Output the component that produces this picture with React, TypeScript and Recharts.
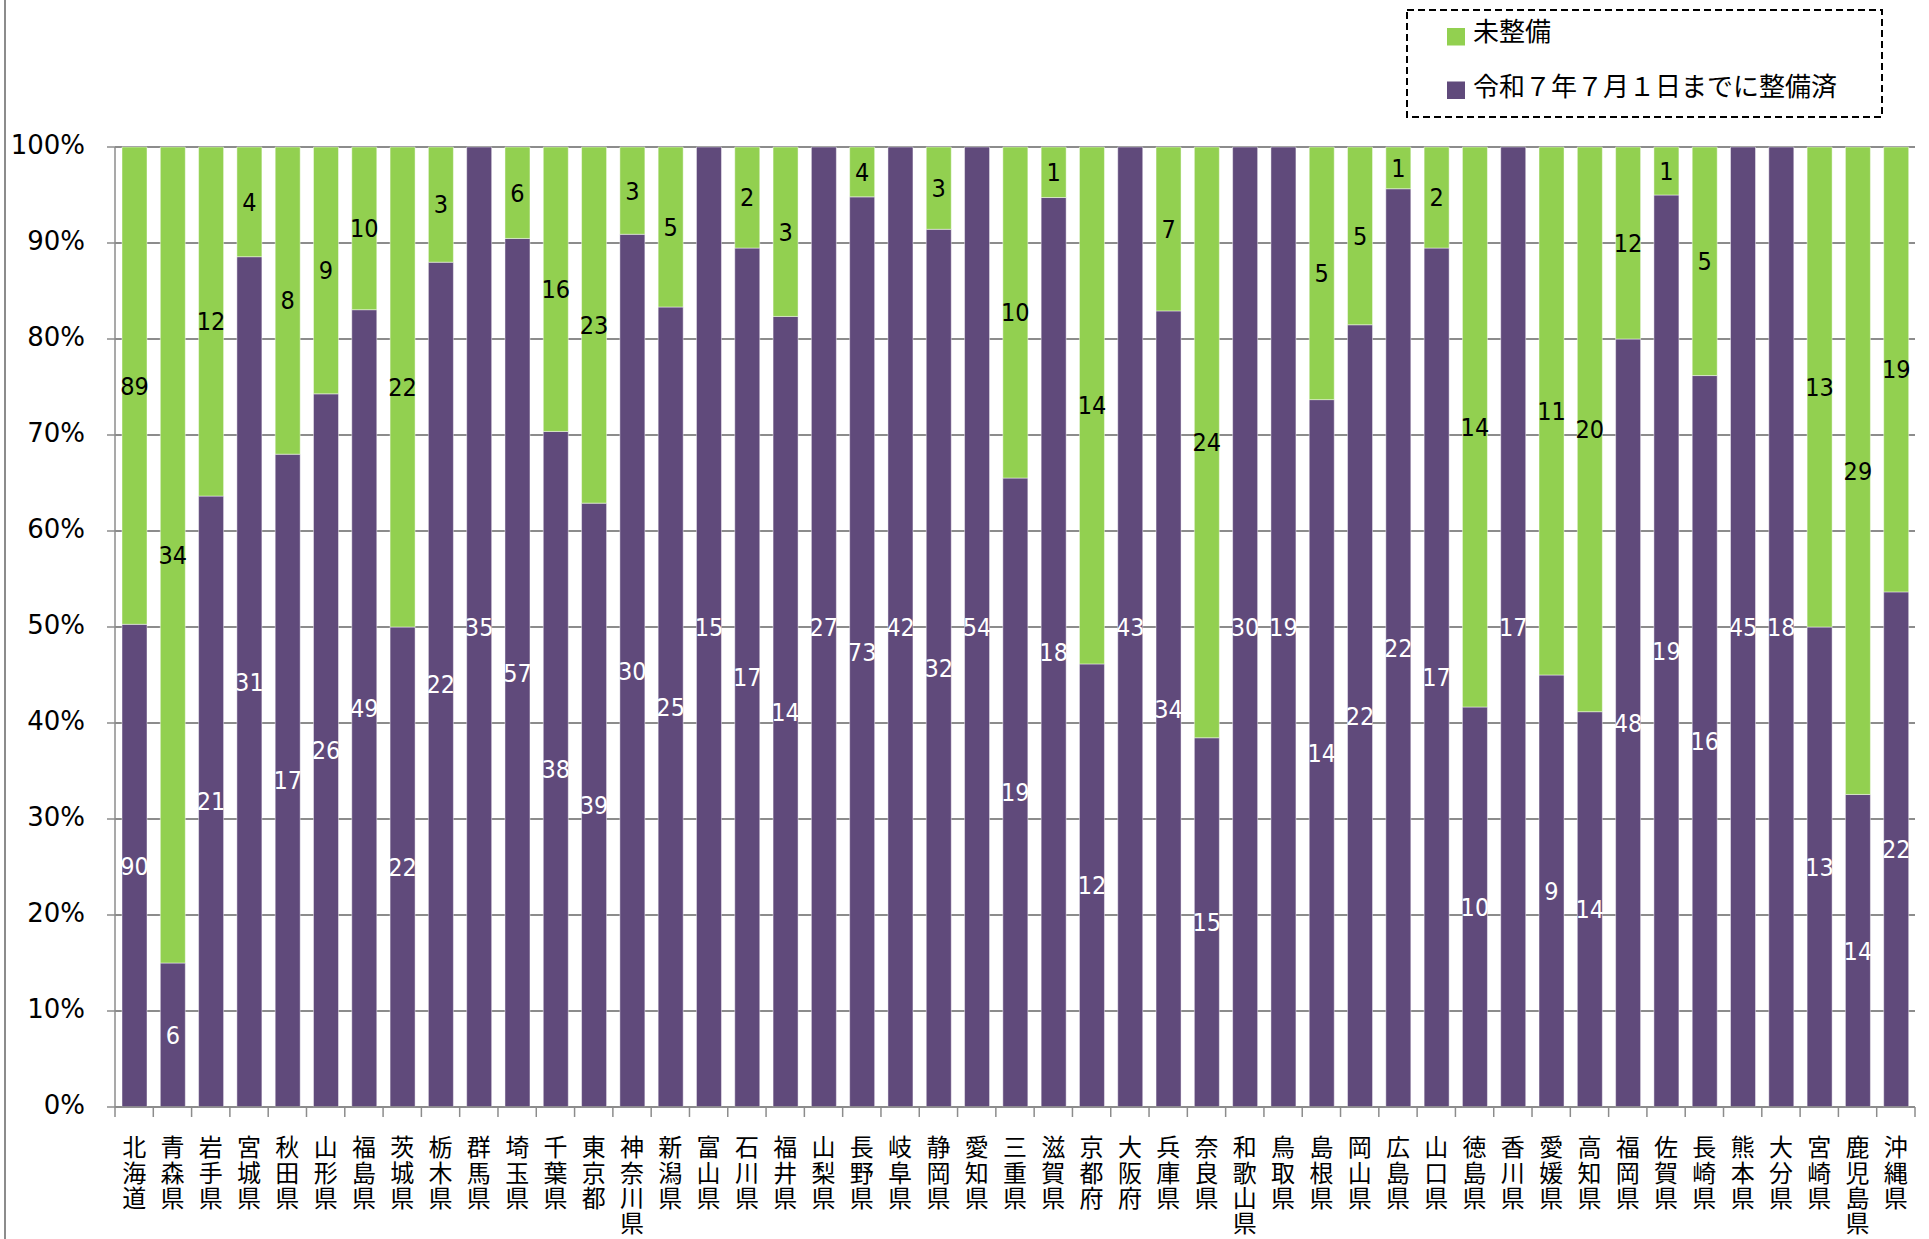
import { BarChart, Bar, XAxis, YAxis, CartesianGrid, LabelList, Legend } from 'recharts'

// 都道府県（表示順）
const prefectures = [
  '北海道', '青森県', '岩手県', '宮城県', '秋田県', '山形県', '福島県', '茨城県', '栃木県', '群馬県',
  '埼玉県', '千葉県', '東京都', '神奈川県', '新潟県', '富山県', '石川県', '福井県', '山梨県', '長野県',
  '岐阜県', '静岡県', '愛知県', '三重県', '滋賀県', '京都府', '大阪府', '兵庫県', '奈良県', '和歌山県',
  '鳥取県', '島根県', '岡山県', '広島県', '山口県', '徳島県', '香川県', '愛媛県', '高知県', '福岡県',
  '佐賀県', '長崎県', '熊本県', '大分県', '宮崎県', '鹿児島県', '沖縄県',
]

// 令和７年７月１日までに整備済
const built = [
  90, 6, 21, 31, 17, 26, 49, 22, 22, 35,
  57, 38, 39, 30, 25, 15, 17, 14, 27, 73,
  42, 32, 54, 19, 18, 12, 43, 34, 15, 30,
  19, 14, 22, 22, 17, 10, 17, 9, 14, 48,
  19, 16, 45, 18, 13, 14, 22,
]

// 未整備
const notBuilt = [
  89, 34, 12, 4, 8, 9, 10, 22, 3, 0,
  6, 16, 23, 3, 5, 0, 2, 3, 0, 4,
  0, 3, 0, 10, 1, 14, 0, 7, 24, 0,
  0, 5, 5, 1, 2, 14, 0, 11, 20, 12,
  1, 5, 0, 0, 13, 29, 19,
]

const yTicks = [0, 0.1, 0.2, 0.3, 0.4, 0.5, 0.6, 0.7, 0.8, 0.9, 1]

const PURPLE = '#604a7b'
const GREEN = '#92d050'
const GRID = '#8c8c8c'

const data = prefectures.map((name, i) => ({
  name,
  built: built[i],
  notBuilt: notBuilt[i],
}))

const hideZero = (v: any) => (v ? v : '')

// 縦書きの都道府県ラベルと区切りの目盛り線
function PrefTick(props: any) {
  const { x, y, payload, index } = props
  const half = payload?.offset ?? 19.15
  return (
    <g>
      <line x1={x - half} x2={x - half} y1={y - 10} y2={y} stroke={GRID} strokeWidth={1.5} />
      {index === prefectures.length - 1 && (
        <line x1={x + half} x2={x + half} y1={y - 10} y2={y} stroke={GRID} strokeWidth={1.5} />
      )}
      <text
        x={x}
        y={y + 18}
        fontFamily="'Noto Sans CJK JP'"
        fontSize={24}
        fill="#000"
        style={{ writingMode: 'vertical-rl', letterSpacing: 1.4 }}
      >
        {payload.value}
      </text>
    </g>
  )
}

function LegendBox() {
  const items = [
    { label: '未整備', color: GREEN },
    { label: '令和７年７月１日までに整備済', color: PURPLE },
  ]
  return (
    <svg width={477} height={109} style={{ display: 'block' }}>
      <rect x={1} y={1} width={475} height={107} fill="#fff" stroke="#000" strokeWidth={2} strokeDasharray="7 4" />
      {items.map((it, i) => (
        <g key={it.label}>
          <rect x={41} y={19 + i * 53.5} width={18} height={17.5} fill={it.color} />
          <text x={67} y={32 + i * 54.5} fontFamily="'Noto Sans CJK JP'" fontSize={26} fill="#000">
            {it.label}
          </text>
        </g>
      ))}
    </svg>
  )
}

export default function App() {
  return (
    <div style={{ position: 'relative', width: 1929, height: 1239, background: '#fff' }}>
      <style>{'body{margin:0}'}</style>
      <div style={{ position: 'absolute', left: 3.5, top: 0, width: 2, height: 1239, background: GRID }} />
      <BarChart
        width={1929}
        height={1239}
        data={data}
        stackOffset="expand"
        margin={{ top: 147, right: 14, left: 0, bottom: 0 }}
      >
        <CartesianGrid vertical={false} stroke={GRID} strokeWidth={2} />
        <XAxis
          dataKey="name"
          interval={0}
          height={132}
          tickLine={false}
          tickSize={10}
          tickMargin={0}
          axisLine={{ stroke: GRID, strokeWidth: 1.5 }}
          tick={<PrefTick />}
        />
        <YAxis
          width={115}
          domain={[0, 1]}
          ticks={yTicks}
          interval={0}
          tickSize={8}
          tickMargin={22}
          tickFormatter={(v: number) => `${Math.round(v * 100)}%`}
          axisLine={{ stroke: GRID, strokeWidth: 1.5 }}
          tickLine={{ stroke: GRID, strokeWidth: 1.5 }}
          tick={{ fontSize: 26, fill: '#000', fontFamily: "'DejaVu Sans'", dy: -2 }}
        />
        <Legend
          layout="vertical"
          align="center"
          verticalAlign="middle"
          wrapperStyle={{ left: 1406, top: 9, width: 477, height: 109 }}
          content={() => <LegendBox />}
        />
        <Bar dataKey="built" stackId="a" fill={PURPLE} barSize={25} stroke="#ffffff" strokeOpacity={0.45} strokeWidth={1} isAnimationActive={false}>
          <LabelList
            dataKey="built"
            position="center"
            formatter={hideZero}
            fill="#fff"
            fontSize={25}
            fontFamily="'DejaVu Sans Condensed', 'DejaVu Sans'"
          />
        </Bar>
        <Bar dataKey="notBuilt" stackId="a" fill={GREEN} barSize={25} stroke="#ffffff" strokeOpacity={0.45} strokeWidth={1} isAnimationActive={false}>
          <LabelList
            dataKey="notBuilt"
            position="center"
            formatter={hideZero}
            fill="#000"
            fontSize={25}
            fontFamily="'DejaVu Sans Condensed', 'DejaVu Sans'"
          />
        </Bar>
      </BarChart>
    </div>
  )
}
